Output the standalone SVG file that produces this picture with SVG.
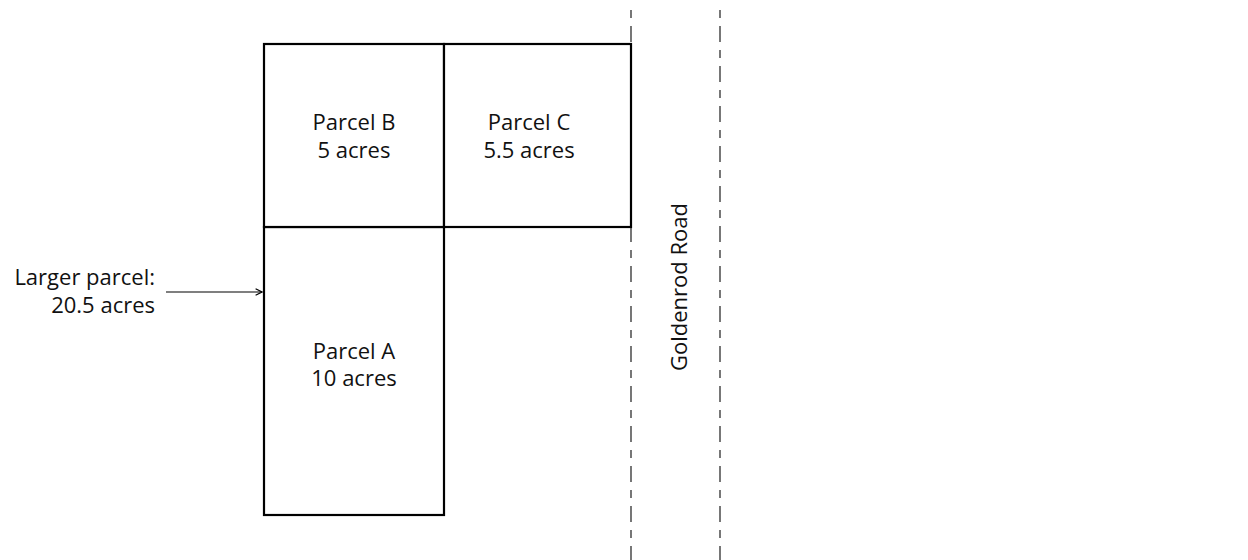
<svg xmlns="http://www.w3.org/2000/svg" width="1248" height="560" viewBox="0 0 1248 560">
<style>
.lbl{font-family:"Open Sans","Noto Sans","DejaVu Sans",sans-serif;font-size:22px;fill:#111;}
.parcel{fill:#fff;stroke:#000;stroke-width:2.2;}
.road{stroke:#555;stroke-width:1.6;stroke-dasharray:8 8 16 8;fill:none;}
</style>
<defs>
<marker id="arr" viewBox="0 0 10 10" refX="9" refY="5" markerWidth="8" markerHeight="8" markerUnits="userSpaceOnUse" orient="auto">
<path d="M1,1 L9,5 L1,9" fill="none" stroke="#000" stroke-width="1.5"/>
</marker>
</defs>
<rect width="1248" height="560" fill="#fff"/>
<g id="road">
<line class="road" x1="631" y1="10" x2="631" y2="560"/>
<line class="road" x1="720" y1="10" x2="720" y2="560"/>
<text class="lbl" transform="translate(687,287) rotate(-90)" text-anchor="middle">Goldenrod Road</text>
</g>
<g id="parcelA">
<rect class="parcel" x="264" y="227" width="180" height="288"/>
<text class="lbl" x="354" y="359" text-anchor="middle">Parcel A</text>
<text class="lbl" x="354" y="386" text-anchor="middle">10 acres</text>
</g>
<g id="parcelB">
<rect class="parcel" x="264" y="44" width="180" height="183"/>
<text class="lbl" x="354" y="130" text-anchor="middle">Parcel B</text>
<text class="lbl" x="354" y="158" text-anchor="middle">5 acres</text>
</g>
<g id="parcelC">
<rect class="parcel" x="444" y="44" width="187" height="183"/>
<text class="lbl" x="529" y="130" text-anchor="middle">Parcel C</text>
<text class="lbl" x="529" y="158" text-anchor="middle">5.5 acres</text>
</g>
<g id="larger">
<text class="lbl" x="155" y="285" text-anchor="end">Larger parcel:</text>
<text class="lbl" x="155" y="313" text-anchor="end">20.5 acres</text>
</g>
<g id="connectors">
<line x1="166" y1="292" x2="262" y2="292" stroke="#000" stroke-width="1.2" marker-end="url(#arr)"/>
</g>
</svg>
